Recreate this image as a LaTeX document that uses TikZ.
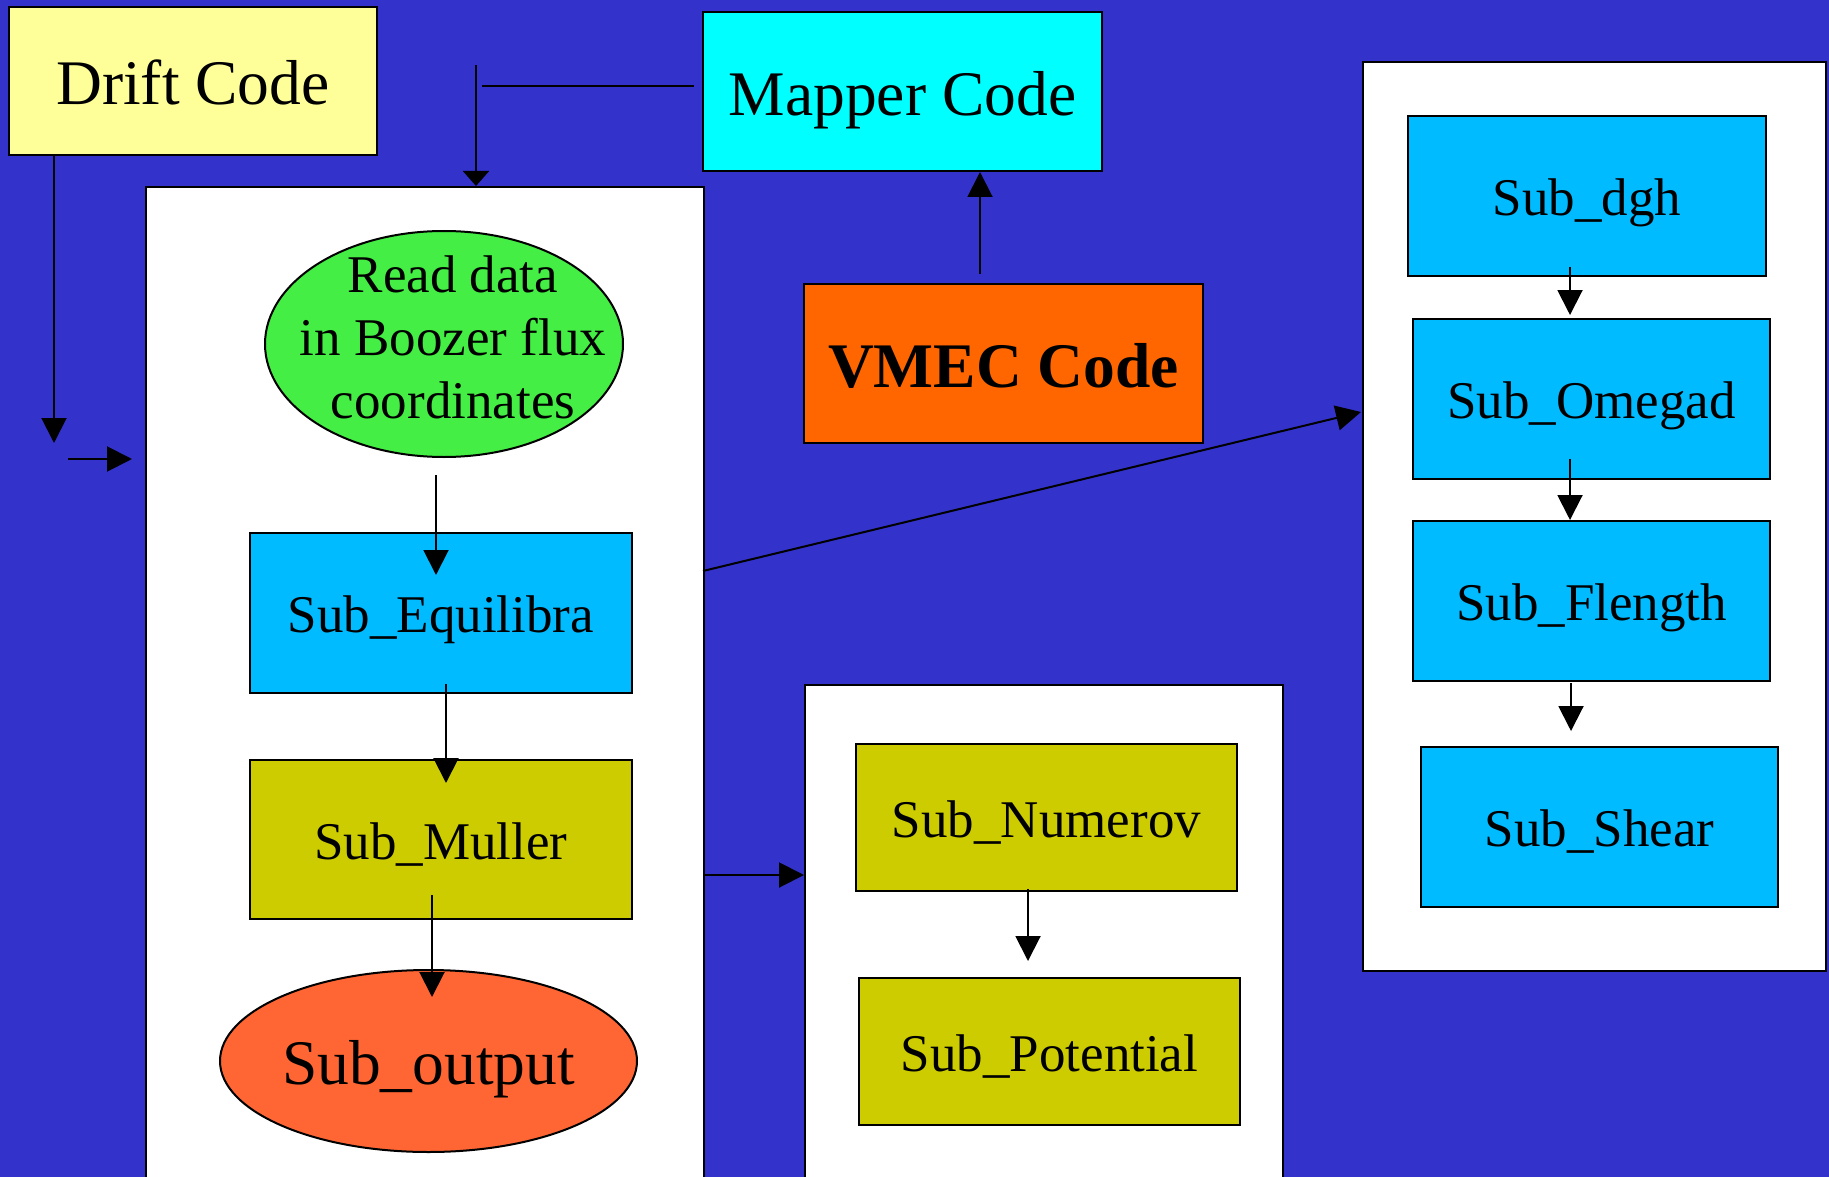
\documentclass[tikz,border=0pt]{standalone}
\usepackage{fontspec}
\setmainfont{Liberation Serif}
\usetikzlibrary{shapes.geometric,arrows.meta}
\definecolor{bgblue}{HTML}{3333CC}
\definecolor{driftc}{HTML}{FFFF99}
\definecolor{mapperc}{HTML}{00FFFF}
\definecolor{vmecc}{HTML}{FF6600}
\definecolor{greenc}{HTML}{44EE44}
\definecolor{skyc}{HTML}{00BBFF}
\definecolor{olivec}{HTML}{CCCC00}
\definecolor{outc}{HTML}{FF6633}
\begin{document}
\begin{tikzpicture}[x=1pt,y=-1pt,
  box/.style={draw=black, line width=2pt, inner sep=0pt, text depth=0pt, anchor=center},
  bigtxt/.style={font=\fontsize{63.5}{76}\selectfont, text height=47.6pt},
  smalltxt/.style={font=\fontsize{53}{63}\selectfont, text height=39.8pt},
  conn/.style={line width=2pt, -{Triangle[length=25pt,width=25pt]}},
  plain/.style={line width=2pt},
  panel/.style={draw=black, line width=2pt, fill=white, inner sep=0pt, anchor=north west}
]
\fill[bgblue] (0,0) rectangle (1829,1177);
\useasboundingbox (0,0) rectangle (1829,1177);
\clip (0,0) rectangle (1829,1177);

% panels
\node[panel, minimum width=558pt, minimum height=1010pt] (mainpanel) at (145,186) {};
\node[panel, minimum width=478pt, minimum height=510pt] (midpanel) at (804,684) {};
\node[panel, minimum width=463pt, minimum height=909pt] (rightpanel) at (1362,61) {};

% top boxes
\node[box, bigtxt, fill=driftc, minimum width=368pt, minimum height=148pt] (drift) at (193,81) {Drift Code};
\node[box, bigtxt, fill=mapperc, minimum width=399pt, minimum height=159pt] (mapper) at (902.5,91.5) {Mapper Code};
\node[box, bigtxt, fill=vmecc, minimum width=399pt, minimum height=159pt, font=\fontsize{63.5}{76}\selectfont\bfseries] (vmec) at (1003.5,363.5) {VMEC Code};

% main panel content
\node[ellipse, draw=black, line width=2pt, fill=greenc, inner sep=0pt, minimum width=358pt, minimum height=226pt] (read) at (444,344) {};
\node[font=\fontsize{53}{63}\selectfont, align=center, inner sep=0pt] (readtxt) at (453,337) {Read data\\in Boozer flux\\coordinates};
\node[box, smalltxt, fill=skyc, minimum width=382pt, minimum height=160pt] (equil) at (441,613) {Sub\_Equilibra};
\node[box, smalltxt, fill=olivec, minimum width=382pt, minimum height=159pt] (muller) at (441,839.5) {Sub\_Muller};
\node[ellipse, box, bigtxt, fill=outc, minimum width=417pt, minimum height=182pt] (output) at (428.5,1061) {Sub\_output};

% mid panel content
\node[box, smalltxt, fill=olivec, minimum width=381pt, minimum height=147pt] (numerov) at (1046.5,817.5) {Sub\_Numerov};
\node[box, smalltxt, fill=olivec, minimum width=381pt, minimum height=147pt] (potential) at (1049.5,1051.5) {Sub\_Potential};

% right panel content
\node[box, smalltxt, fill=skyc, minimum width=358pt, minimum height=160pt] (dgh) at (1587,196) {Sub\_dgh};
\node[box, smalltxt, fill=skyc, minimum width=357pt, minimum height=160pt] (omegad) at (1591.5,399) {Sub\_Omegad};
\node[box, smalltxt, fill=skyc, minimum width=357pt, minimum height=160pt] (flength) at (1591.5,601) {Sub\_Flength};
\node[box, smalltxt, fill=skyc, minimum width=357pt, minimum height=160pt] (shear) at (1599.5,827) {Sub\_Shear};

% coordinates
\coordinate (dT) at (54,443);
\coordinate (sA) at (68,459);
\coordinate (sB) at (132,459);
\coordinate (mT) at (476,65);
\coordinate (hA) at (482,86);
\coordinate (hB) at (694,86);
\coordinate (vS) at (980,274);
\coordinate (e1) at (436,475);
\coordinate (e2) at (436,575);
\coordinate (q1) at (446,684);
\coordinate (q2) at (446,783);
\coordinate (m1) at (432,895);
\coordinate (m2) at (432,997);
\coordinate (g1) at (703,571);
\coordinate (g2) at (1361,412);
\coordinate (k1) at (703,875);
\coordinate (n1) at (1028,889);
\coordinate (n2) at (1028,961);
\coordinate (r1) at (1570,267);
\coordinate (r2) at (1570,315);
\coordinate (r3) at (1570,459);
\coordinate (r4) at (1570,520);
\coordinate (r5) at (1571,683);
\coordinate (r6) at (1571,731);

% connectors
\draw[conn] (drift.south -| dT) -- (dT);
\draw[conn] (sA) -- (sB);
\draw[plain, -{Triangle[length=15pt,width=26pt]}] (mT) -- (mT |- mainpanel.north);
\draw[plain] (hA) -- (hB);
\draw[conn] (vS) -- (vS |- mapper.south);
\draw[conn] (e1) -- (e2);
\draw[conn] (q1) -- (q2);
\draw[conn] (m1) -- (m2);
\draw[conn] (g1) -- (g2);
\draw[conn] (k1) -- (k1 -| midpanel.west);
\draw[conn] (n1) -- (n2);
\draw[conn] (r1) -- (r2);
\draw[conn] (r3) -- (r4);
\draw[conn] (r5) -- (r6);
\end{tikzpicture}
\end{document}
